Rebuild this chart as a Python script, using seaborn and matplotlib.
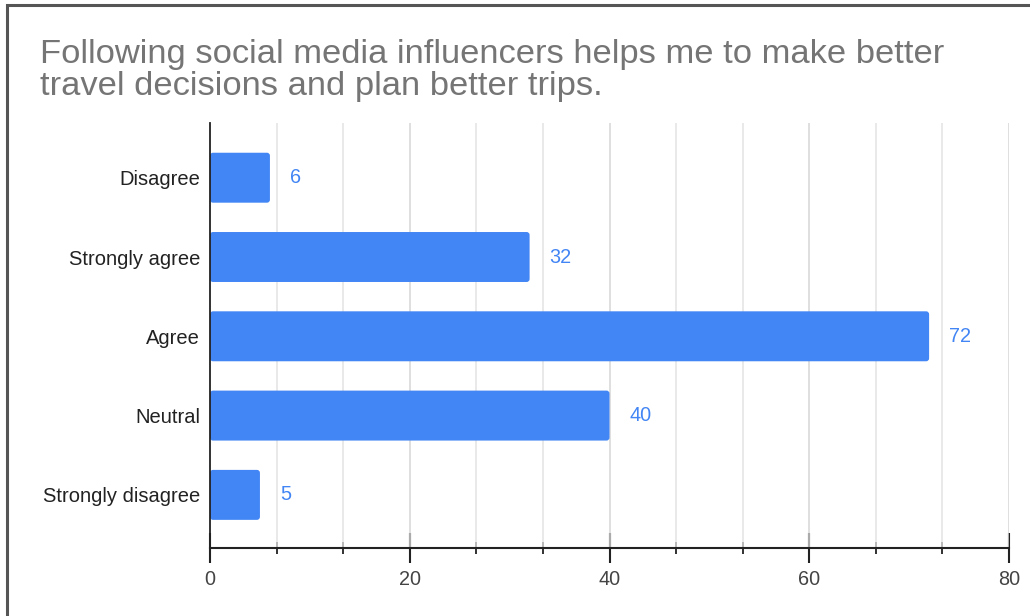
import matplotlib
matplotlib.use("Agg")
import matplotlib.pyplot as plt
from matplotlib.patches import FancyBboxPatch, Rectangle
from matplotlib.ticker import MultipleLocator
import seaborn as sns
import pandas as pd

responses = ["Disagree", "Strongly agree", "Agree", "Neutral", "Strongly disagree"]
counts = [6, 32, 72, 40, 5]
x_ticks = [0, 20, 40, 60, 80]
title = "Following social media influencers helps me to make better\ntravel decisions and plan better trips."

BAR = "#4285F4"

sns.set_theme(style="white")
plt.rcParams["font.family"] = ["Liberation Sans", "DejaVu Sans"]

df = pd.DataFrame({"response": responses, "count": counts})

fig = plt.figure(figsize=(10.30, 6.16), dpi=100)
W, H = 1030, 616
ax = fig.add_axes([210 / W, 1 - 548 / H, (1009 - 210) / W, (548 - 123) / H])

sns.barplot(data=df, x="count", y="response", order=responses, color=BAR,
            saturation=1, width=0.63, ax=ax, zorder=3)

# soften bar corners
for p in list(ax.patches):
    x0, y0 = p.get_x(), p.get_y()
    w, h = p.get_width(), p.get_height()
    fb = FancyBboxPatch((x0, y0), w, h,
                        boxstyle="round,pad=0,rounding_size=0.3",
                        mutation_aspect=0.125,
                        facecolor=BAR, edgecolor="none", zorder=3)
    p.remove()
    ax.add_patch(fb)

# value labels
for i, v in enumerate(counts):
    ax.text(v + 2.0, i, str(v), va="center", ha="left",
            color=BAR, fontsize=14.3)

ax.set_xlim(0, 80)
ax.set_ylim(len(responses) - 0.33, -0.69)
ax.set_xticks(x_ticks)
ax.xaxis.set_minor_locator(MultipleLocator(20 / 3))
ax.grid(False)
for xv in [k * 20 / 3 for k in range(1, 13)]:
    major = abs(xv / 20 - round(xv / 20)) < 1e-6
    ax.axvline(xv, color="#d6d6d6" if major else "#e3e3e3", lw=1.1, zorder=1)

ax.set_xlabel("")
ax.set_ylabel("")
for s in ["top", "right"]:
    ax.spines[s].set_visible(False)
ax.spines["left"].set_color("#222222")
ax.spines["left"].set_linewidth(1.3)
ax.spines["bottom"].set_color("#222222")
ax.spines["bottom"].set_linewidth(1.5)
ax.spines["left"].set_zorder(5)

ax.tick_params(axis="x", which="major", direction="inout", length=22, width=1.5,
               color="#222222", labelsize=14.3, labelcolor="#444444", pad=5,
               bottom=True)
ax.tick_params(axis="x", which="minor", direction="inout", length=9, width=1.3,
               color="#222222", bottom=True)
ax.tick_params(axis="y", length=0, labelsize=14.5, labelcolor="#222222", pad=7)

fig.text(40 / W, 1 - 39 / H, title, ha="left", va="top", fontsize=24.8,
         color="#757575", linespacing=1.04)

# outer frame
fig.patches.append(Rectangle((7 / W, -0.1), 1.2, 1 - 5 / H + 0.1,
                             transform=fig.transFigure, fill=False,
                             edgecolor="#555555", lw=2.2))

fig.savefig("out.png", dpi=100)
